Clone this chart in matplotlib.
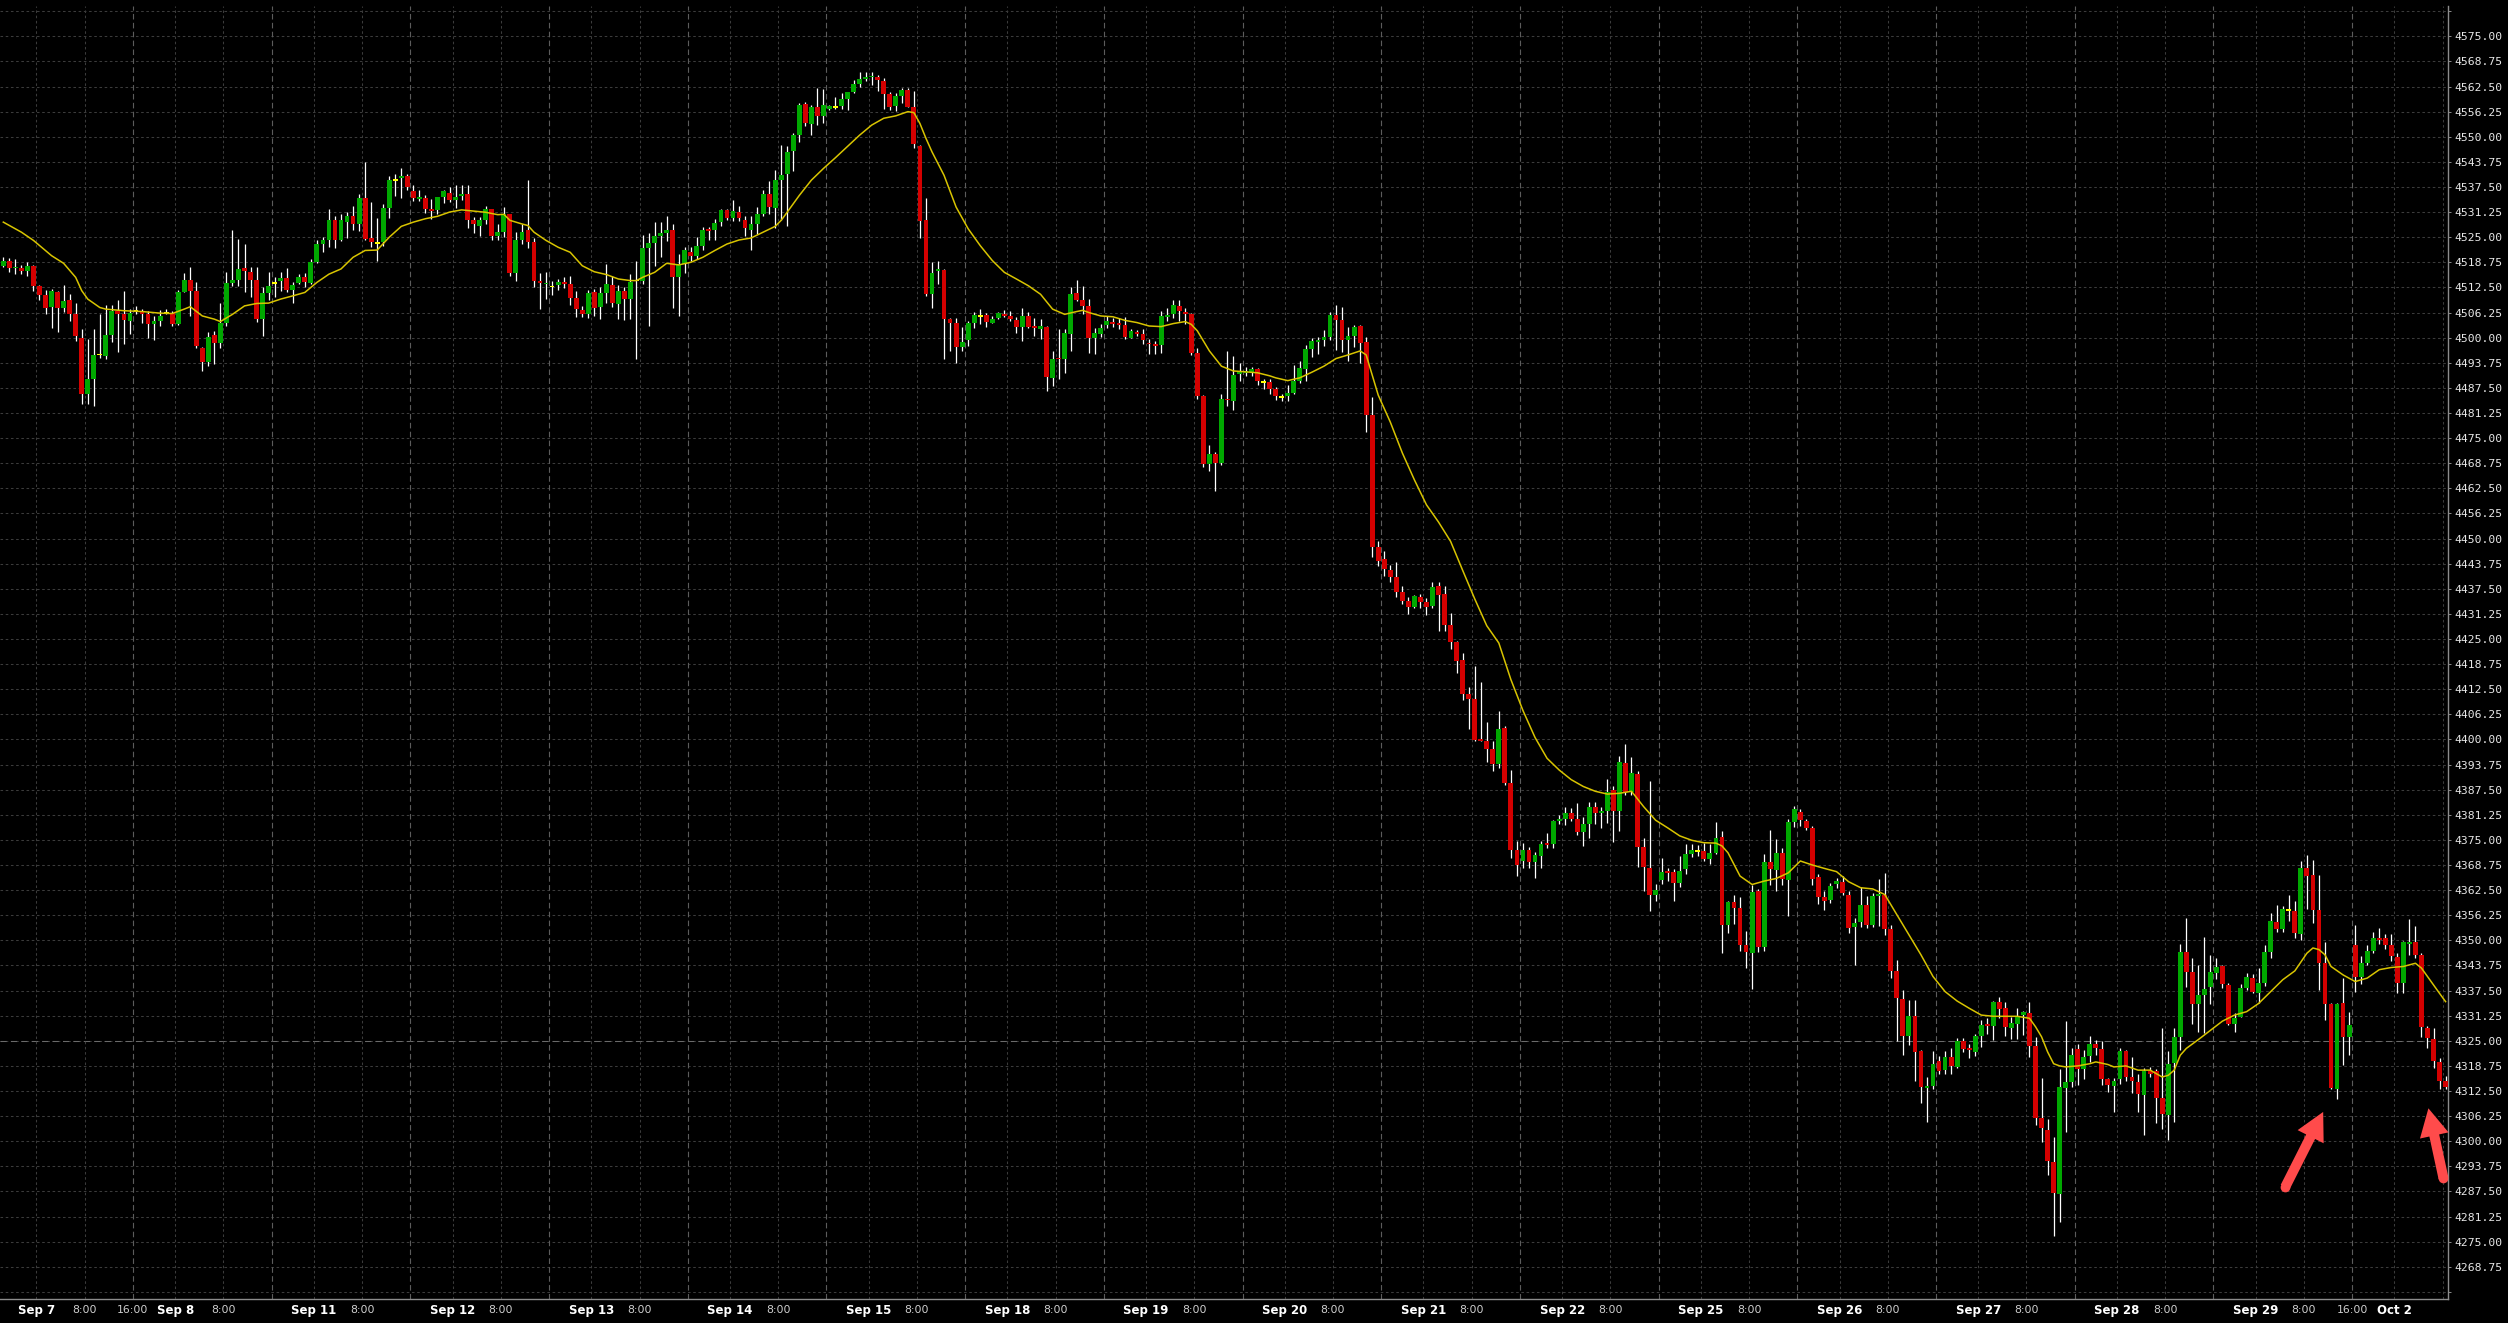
import matplotlib
matplotlib.use('Agg')
import matplotlib.pyplot as plt
from matplotlib.patches import FancyArrowPatch
import numpy as np

# hourly bars, 23 per session, Sep 7 - Oct 2
opens = [
    4517.9, 4519.2, 4517.25, 4517.4, 4516.7, 4517.8, 4512.8, 4510.7, 4507.7, 4511.4,
    4507.3, 4509.3, 4505.8, 4500.0, 4486.0, 4489.7, 4495.8, 4495.4, 4500.7, 4506.7,
    4505.8, 4504.2, 4506.7, 4506.7, 4506.0, 4503.3, 4504.2, 4506.2, 4506.2, 4503.4,
    4511.4, 4514.3, 4511.7, 4497.3, 4494.0, 4500.7, 4498.75, 4503.7, 4513.7, 4514.3,
    4517.3, 4516.4, 4514.3, 4504.75, 4511.2, 4513.7, 4514.0, 4514.9, 4511.8, 4513.5,
    4515.0, 4513.5, 4518.9, 4523.3, 4524.2, 4529.2, 4524.2, 4528.9, 4530.2, 4528.3,
    4534.7, 4524.8, 4523.5, 4523.9, 4532.2, 4539.2, 4539.8, 4540.2, 4536.4, 4534.5,
    4534.8, 4531.9, 4531.75, 4534.9, 4536.1, 4534.25, 4535.25, 4535.8, 4529.2, 4527.9,
    4529.4, 4531.9, 4525.25, 4526.25, 4530.7, 4516.0, 4524.3, 4526.7, 4523.9, 4514.2,
    4513.3, 4512.75, 4513.1, 4513.9, 4513.3, 4509.75, 4506.9, 4505.8, 4511.4, 4507.7,
    4511.2, 4513.1, 4508.3, 4511.7, 4509.6, 4514.2, 4514.2, 4522.3, 4523.6, 4525.4,
    4526.0, 4526.9, 4515.0, 4518.3, 4521.2, 4520.4, 4522.75, 4526.9, 4526.7, 4528.75,
    4531.7, 4529.75, 4531.2, 4529.4, 4526.9, 4528.3, 4530.8, 4535.8, 4532.25, 4539.2,
    4540.7, 4546.4, 4550.4, 4558.2, 4553.2, 4557.3, 4555.25, 4556.8, 4557.4, 4557.7,
    4559.5, 4561.1, 4563.2, 4564.5, 4564.8, 4564.8, 4563.8, 4560.75, 4557.75, 4560.2,
    4561.7, 4557.3, 4547.8, 4529.2, 4510.8, 4516.5, 4516.8, 4504.75, 4503.75, 4497.75,
    4499.4, 4503.75, 4505.4, 4505.6, 4503.75, 4505.0, 4505.8, 4505.4, 4504.3, 4502.75,
    4505.3, 4502.9, 4502.25, 4502.75, 4490.0, 4495.0, 4494.75, 4501.0, 4511.2, 4509.4,
    4507.9, 4500.0, 4501.0, 4503.2, 4503.9, 4503.6, 4503.2, 4500.0, 4501.4, 4501.0,
    4498.75, 4498.3, 4498.25, 4505.25, 4506.0, 4507.9, 4506.5, 4505.8, 4496.1, 4485.4,
    4468.6, 4471.1, 4468.75, 4484.8, 4484.3, 4491.0, 4491.1, 4491.5, 4492.1, 4489.0,
    4488.9, 4487.1, 4485.2, 4485.4, 4486.2, 4489.3, 4492.2, 4497.2, 4499.1, 4499.3,
    4500.1, 4505.6, 4504.4, 4499.3, 4500.35, 4502.9, 4498.9, 4480.7, 4447.9, 4444.8,
    4442.2, 4440.5, 4436.6, 4434.5, 4432.9, 4435.5, 4434.2, 4433.1, 4438.2, 4436.1,
    4428.6, 4424.2, 4419.7, 4411.4, 4410.1, 4400.1, 4399.6, 4397.5, 4393.8, 4402.9,
    4389.2, 4372.6, 4369.7, 4372.6, 4369.5, 4371.0, 4374.2, 4373.9, 4379.6, 4380.3,
    4381.6, 4380.3, 4376.9, 4378.9, 4383.1, 4381.6, 4382.1, 4387.3, 4382.3, 4394.2,
    4386.9, 4391.3, 4373.25, 4368.1, 4361.4, 4364.9, 4367.25, 4367.1, 4364.3, 4367.7,
    4371.6, 4372.25, 4372.25, 4370.3, 4371.7, 4375.75, 4353.75, 4359.5, 4358.0, 4348.8,
    4346.75, 4362.25, 4348.25, 4369.5, 4367.5, 4371.7, 4365.1, 4379.5, 4382.0, 4379.75,
    4378.0, 4365.75, 4360.8, 4360.0, 4364.0, 4364.5, 4361.4, 4353.3, 4354.5, 4358.75,
    4353.75, 4361.1, 4361.4, 4352.8, 4342.3, 4335.4, 4326.25, 4331.25, 4322.5, 4313.3,
    4313.75, 4320.0, 4317.7, 4321.0, 4318.5, 4325.0, 4323.1, 4322.25, 4326.25, 4329.2,
    4328.75, 4334.75, 4333.25, 4328.3, 4329.3, 4331.4, 4332.0, 4323.75, 4305.75, 4302.9,
    4294.75, 4286.8, 4313.25, 4314.7, 4322.9, 4318.0, 4321.1, 4324.25, 4322.9, 4315.6,
    4313.75, 4315.6, 4322.4, 4316.0, 4314.75, 4311.6, 4317.4, 4317.4, 4310.75, 4306.6,
    4319.5, 4325.9, 4347.2, 4342.0, 4334.2, 4336.5, 4338.3, 4341.75, 4343.5, 4338.9,
    4329.1, 4331.0, 4338.25, 4340.75, 4336.8, 4339.3, 4347.0, 4354.5, 4352.8, 4357.5,
    4357.4, 4351.6, 4368.1, 4366.25, 4357.5, 4344.3, 4334.1, 4313.1, 4334.3, 4326.0,
    4348.75, 4340.8, 4344.3, 4347.25, 4350.6, 4350.6, 4348.75, 4345.8, 4339.3, 4349.25,
    4349.5, 4346.25, 4328.3, 4325.4, 4319.75, 4315.0,
]

highs = [
    4520.0, 4519.8, 4519.6, 4518.2, 4518.8, 4518.2, 4513.2, 4511.8, 4512.1, 4511.7,
    4513.2, 4510.8, 4508.6, 4502.1, 4499.6, 4502.1, 4505.8, 4508.2, 4508.2, 4509.3,
    4511.7, 4507.1, 4507.9, 4507.1, 4506.7, 4505.4, 4506.8, 4507.1, 4506.7, 4511.8,
    4516.0, 4517.7, 4513.8, 4497.7, 4501.3, 4501.7, 4508.6, 4516.3, 4526.7, 4524.6,
    4523.3, 4517.7, 4517.5, 4512.7, 4516.3, 4515.0, 4516.3, 4517.25, 4513.75, 4515.8,
    4516.0, 4519.6, 4524.2, 4525.0, 4531.9, 4530.2, 4530.8, 4531.25, 4532.7, 4535.7,
    4543.75, 4533.7, 4529.8, 4533.3, 4540.2, 4540.8, 4542.1, 4540.8, 4537.9, 4536.7,
    4535.4, 4534.6, 4535.0, 4536.8, 4537.5, 4537.9, 4537.9, 4537.9, 4530.0, 4530.0,
    4532.7, 4532.1, 4528.3, 4532.5, 4530.8, 4526.25, 4528.3, 4539.2, 4524.8, 4516.0,
    4516.25, 4514.2, 4514.6, 4515.2, 4515.4, 4511.5, 4507.9, 4511.8, 4512.0, 4512.5,
    4518.3, 4515.4, 4513.1, 4512.5, 4515.8, 4519.2, 4525.6, 4526.0, 4528.75, 4528.75,
    4530.2, 4528.2, 4520.7, 4522.5, 4522.5, 4525.0, 4527.5, 4527.5, 4529.6, 4532.1,
    4532.1, 4534.2, 4532.7, 4530.2, 4530.2, 4532.5, 4536.8, 4539.0, 4541.7, 4547.9,
    4547.7, 4551.0, 4558.3, 4558.75, 4557.9, 4562.1, 4561.8, 4557.9, 4559.8, 4560.8,
    4561.25, 4564.2, 4566.1, 4566.0, 4566.1, 4565.4, 4564.6, 4561.25, 4561.0, 4562.1,
    4562.1, 4561.5, 4547.9, 4534.75, 4518.75, 4519.2, 4517.1, 4505.0, 4505.0, 4502.75,
    4504.2, 4506.5, 4507.1, 4506.25, 4505.4, 4506.5, 4506.9, 4506.7, 4505.2, 4507.3,
    4506.5, 4505.0, 4504.75, 4502.9, 4496.7, 4502.1, 4502.1, 4512.5, 4514.3, 4512.8,
    4509.6, 4502.5, 4503.3, 4505.4, 4504.8, 4505.0, 4505.2, 4502.1, 4501.8, 4502.1,
    4499.6, 4499.2, 4506.7, 4507.5, 4509.3, 4509.3, 4507.5, 4506.1, 4497.5, 4485.8,
    4473.2, 4471.5, 4486.0, 4496.7, 4495.4, 4493.75, 4492.7, 4492.7, 4492.5, 4489.8,
    4489.8, 4487.8, 4485.9, 4488.1, 4493.2, 4494.1, 4498.1, 4499.9, 4500.1, 4501.8,
    4506.3, 4508.2, 4507.7, 4502.7, 4503.1, 4503.1, 4500.1, 4485.2, 4449.5, 4446.9,
    4443.5, 4444.1, 4438.3, 4435.4, 4435.9, 4436.1, 4435.2, 4439.1, 4439.1, 4438.3,
    4431.4, 4424.5, 4421.6, 4413.0, 4418.2, 4414.4, 4404.4, 4399.6, 4407.2, 4403.4,
    4392.4, 4374.7, 4374.2, 4373.3, 4372.0, 4374.7, 4376.6, 4380.0, 4381.3, 4383.3,
    4382.9, 4384.3, 4380.8, 4384.5, 4384.5, 4383.3, 4390.2, 4388.3, 4395.9, 4398.8,
    4395.6, 4392.1, 4375.4, 4389.6, 4364.1, 4370.4, 4368.1, 4367.7, 4371.0, 4374.0,
    4374.1, 4373.75, 4374.3, 4373.9, 4379.5, 4377.1, 4359.9, 4361.2, 4360.75, 4352.4,
    4363.9, 4362.7, 4371.6, 4377.4, 4375.2, 4372.9, 4380.2, 4383.5, 4382.8, 4380.2,
    4378.5, 4366.6, 4362.25, 4364.3, 4365.6, 4366.0, 4362.25, 4355.6, 4363.25, 4361.0,
    4361.8, 4365.2, 4366.7, 4353.75, 4345.0, 4337.7, 4335.2, 4335.2, 4322.7, 4316.0,
    4322.4, 4321.25, 4322.4, 4323.25, 4325.6, 4325.6, 4324.1, 4326.6, 4330.2, 4330.6,
    4334.9, 4336.0, 4334.6, 4331.0, 4333.25, 4332.4, 4334.6, 4326.0, 4315.75, 4305.6,
    4301.0, 4318.1, 4330.0, 4323.25, 4324.3, 4322.7, 4326.25, 4325.2, 4324.9, 4315.75,
    4315.75, 4323.1, 4322.7, 4321.0, 4316.8, 4318.25, 4318.5, 4318.1, 4328.1, 4322.4,
    4328.25, 4349.1, 4355.6, 4345.6, 4343.75, 4350.75, 4346.4, 4345.5, 4343.75, 4339.3,
    4331.8, 4339.1, 4341.8, 4341.6, 4343.1, 4348.75, 4356.8, 4358.75, 4358.5, 4361.25,
    4359.9, 4369.75, 4371.25, 4369.9, 4366.25, 4349.5, 4334.3, 4334.3, 4340.6, 4332.25,
    4353.7, 4346.0, 4348.9, 4352.0, 4353.1, 4351.6, 4351.6, 4346.8, 4349.75, 4355.4,
    4353.5, 4346.8, 4328.75, 4328.25, 4320.75, 4316.25,
]

lows = [
    4517.5, 4516.3, 4515.8, 4515.8, 4515.4, 4511.5, 4509.3, 4505.8, 4502.5, 4501.3,
    4506.3, 4504.2, 4499.2, 4483.5, 4483.5, 4482.9, 4495.0, 4494.6, 4499.0, 4496.5,
    4498.5, 4500.8, 4505.8, 4503.75, 4500.0, 4499.4, 4502.9, 4505.8, 4502.9, 4503.2,
    4511.3, 4505.4, 4497.5, 4491.7, 4492.9, 4493.5, 4497.5, 4502.9, 4512.9, 4512.9,
    4511.3, 4510.2, 4504.0, 4500.4, 4509.3, 4510.0, 4511.5, 4511.25, 4508.5, 4513.3,
    4512.5, 4513.3, 4518.5, 4521.25, 4522.5, 4522.3, 4524.0, 4524.8, 4526.7, 4526.5,
    4524.2, 4522.5, 4519.2, 4522.7, 4529.8, 4535.2, 4534.8, 4536.8, 4534.0, 4534.0,
    4531.0, 4529.6, 4530.8, 4533.5, 4533.75, 4532.25, 4534.2, 4527.25, 4526.0, 4525.3,
    4528.3, 4524.4, 4524.2, 4525.0, 4515.4, 4514.2, 4523.3, 4522.3, 4512.5, 4507.1,
    4509.6, 4510.6, 4511.8, 4512.3, 4508.2, 4505.25, 4505.25, 4505.0, 4505.4, 4504.6,
    4508.5, 4507.7, 4504.6, 4504.3, 4504.75, 4494.8, 4513.3, 4502.8, 4517.9, 4520.0,
    4524.0, 4507.5, 4505.4, 4516.0, 4519.0, 4519.6, 4521.7, 4524.3, 4524.2, 4527.7,
    4529.2, 4529.0, 4529.0, 4525.3, 4521.7, 4525.8, 4530.2, 4530.7, 4527.3, 4529.2,
    4527.75, 4541.5, 4548.75, 4552.7, 4550.4, 4552.9, 4553.3, 4556.7, 4556.8, 4556.8,
    4556.7, 4560.8, 4562.5, 4563.75, 4562.9, 4561.5, 4556.9, 4556.7, 4556.4, 4558.3,
    4557.5, 4547.25, 4524.8, 4510.25, 4507.5, 4513.3, 4494.8, 4496.7, 4493.75, 4496.8,
    4497.9, 4502.5, 4503.3, 4502.7, 4503.75, 4504.6, 4505.2, 4504.2, 4501.25, 4499.2,
    4502.5, 4500.4, 4499.6, 4486.7, 4487.9, 4489.6, 4491.25, 4496.8, 4509.2, 4505.8,
    4496.25, 4496.0, 4500.2, 4502.5, 4502.7, 4502.1, 4499.6, 4499.8, 4500.4, 4498.3,
    4496.0, 4496.0, 4496.25, 4504.2, 4505.0, 4504.2, 4503.3, 4495.8, 4484.8, 4467.9,
    4466.8, 4461.8, 4468.3, 4482.9, 4482.1, 4489.2, 4490.4, 4490.4, 4488.3, 4487.1,
    4486.0, 4484.5, 4484.3, 4484.3, 4485.9, 4488.8, 4489.3, 4495.3, 4496.0, 4498.0,
    4499.4, 4497.0, 4496.4, 4494.1, 4497.7, 4493.6, 4476.6, 4445.5, 4443.1, 4440.6,
    4439.3, 4435.5, 4433.8, 4431.2, 4432.6, 4432.6, 4430.9, 4432.6, 4426.9, 4426.9,
    4422.6, 4416.6, 4409.9, 4402.7, 4399.6, 4399.6, 4394.3, 4392.1, 4392.9, 4388.6,
    4370.4, 4366.1, 4368.0, 4368.0, 4365.6, 4368.0, 4373.1, 4373.1, 4378.9, 4378.7,
    4379.7, 4376.1, 4373.4, 4375.5, 4378.9, 4378.0, 4379.1, 4374.4, 4377.2, 4386.2,
    4386.2, 4368.2, 4362.4, 4357.25, 4359.75, 4364.1, 4364.75, 4359.9, 4363.25, 4366.6,
    4370.75, 4371.0, 4369.75, 4369.1, 4371.4, 4346.8, 4351.8, 4354.1, 4347.4, 4343.1,
    4337.8, 4347.1, 4347.25, 4363.9, 4362.25, 4363.9, 4356.0, 4378.3, 4378.5, 4377.5,
    4363.9, 4359.1, 4357.6, 4359.3, 4363.1, 4361.4, 4351.8, 4343.75, 4353.3, 4353.1,
    4353.3, 4353.5, 4351.25, 4340.6, 4324.9, 4321.4, 4323.9, 4314.9, 4309.6, 4304.9,
    4313.1, 4316.7, 4316.8, 4316.8, 4318.25, 4322.25, 4320.75, 4321.25, 4323.5, 4326.8,
    4325.2, 4330.6, 4326.25, 4325.4, 4325.4, 4326.4, 4321.0, 4304.1, 4299.75, 4291.6,
    4276.4, 4279.9, 4302.4, 4313.5, 4314.1, 4315.6, 4319.75, 4321.4, 4314.1, 4312.25,
    4307.25, 4314.3, 4315.1, 4312.1, 4307.25, 4301.6, 4316.0, 4304.6, 4303.1, 4300.4,
    4304.9, 4322.7, 4338.5, 4329.1, 4327.1, 4327.0, 4334.1, 4340.5, 4338.25, 4328.9,
    4327.25, 4330.8, 4337.7, 4336.8, 4334.3, 4338.7, 4345.6, 4352.1, 4352.0, 4354.75,
    4350.6, 4350.2, 4357.7, 4354.3, 4337.7, 4330.2, 4313.1, 4310.6, 4318.9, 4321.4,
    4337.25, 4339.1, 4343.9, 4346.8, 4349.1, 4347.9, 4344.9, 4336.8, 4336.8, 4346.4,
    4345.6, 4326.0, 4323.25, 4318.25, 4312.9, 4313.1,
]

closes = [
    4519.2, 4517.3, 4517.7, 4516.5, 4517.8, 4512.8, 4510.7, 4507.5, 4511.7, 4507.3,
    4509.2, 4505.8, 4500.3, 4486.0, 4489.8, 4495.7, 4495.8, 4500.7, 4506.7, 4505.8,
    4504.3, 4506.2, 4506.7, 4506.0, 4503.3, 4504.2, 4505.5, 4506.2, 4503.3, 4511.4,
    4514.3, 4511.5, 4497.8, 4494.0, 4500.2, 4498.6, 4503.7, 4513.7, 4514.3, 4517.2,
    4516.7, 4514.3, 4504.75, 4511.2, 4512.9, 4513.7, 4514.8, 4511.8, 4513.2, 4515.0,
    4513.75, 4518.9, 4523.3, 4524.2, 4529.4, 4524.2, 4529.2, 4530.2, 4528.3, 4534.7,
    4524.6, 4523.9, 4523.5, 4532.2, 4539.2, 4539.4, 4540.2, 4537.5, 4534.8, 4535.0,
    4532.0, 4531.5, 4534.9, 4536.4, 4534.25, 4534.9, 4535.8, 4529.2, 4528.25, 4529.4,
    4531.9, 4525.4, 4526.4, 4530.8, 4516.0, 4524.2, 4526.4, 4523.9, 4514.0, 4513.5,
    4513.7, 4512.75, 4513.9, 4513.3, 4509.75, 4507.25, 4506.0, 4511.2, 4507.5, 4511.2,
    4513.3, 4508.5, 4511.7, 4509.6, 4513.9, 4514.2, 4522.3, 4523.5, 4525.2, 4526.0,
    4526.9, 4515.0, 4518.3, 4521.8, 4520.3, 4522.8, 4526.9, 4526.5, 4528.6, 4531.7,
    4529.75, 4531.4, 4529.75, 4527.25, 4528.4, 4530.8, 4535.8, 4532.5, 4539.2, 4540.4,
    4546.25, 4550.4, 4557.9, 4553.3, 4557.3, 4555.25, 4557.9, 4557.7, 4557.4, 4559.3,
    4561.1, 4563.2, 4564.4, 4564.9, 4565.2, 4564.0, 4560.75, 4557.5, 4560.2, 4561.7,
    4557.5, 4548.3, 4529.0, 4510.8, 4516.2, 4517.1, 4504.75, 4503.75, 4497.75, 4498.9,
    4503.6, 4505.6, 4505.4, 4504.0, 4504.75, 4506.1, 4505.4, 4504.75, 4502.75, 4505.3,
    4502.75, 4502.5, 4502.9, 4490.25, 4494.8, 4494.6, 4501.1, 4510.8, 4509.4, 4507.9,
    4500.0, 4501.1, 4502.3, 4504.2, 4503.4, 4503.2, 4500.25, 4501.7, 4501.0, 4499.3,
    4498.3, 4497.9, 4505.4, 4505.7, 4508.1, 4506.7, 4505.8, 4496.25, 4485.6, 4468.6,
    4471.1, 4468.75, 4484.8, 4484.4, 4490.8, 4491.7, 4491.7, 4492.1, 4489.3, 4489.0,
    4487.1, 4485.4, 4485.2, 4486.2, 4489.3, 4492.4, 4497.2, 4499.1, 4499.4, 4500.1,
    4505.6, 4504.4, 4499.3, 4500.4, 4502.6, 4498.6, 4480.7, 4447.9, 4444.3, 4442.5,
    4440.5, 4436.7, 4434.5, 4432.9, 4435.7, 4434.2, 4432.9, 4437.9, 4436.0, 4428.5,
    4424.2, 4419.5, 4411.4, 4410.1, 4399.9, 4399.6, 4397.5, 4393.8, 4402.6, 4389.2,
    4372.6, 4368.8, 4372.6, 4369.5, 4371.2, 4373.9, 4373.7, 4379.6, 4380.3, 4381.6,
    4380.3, 4376.9, 4378.9, 4383.3, 4381.6, 4382.1, 4386.8, 4382.3, 4394.4, 4386.9,
    4391.7, 4373.3, 4368.3, 4361.4, 4362.5, 4367.1, 4366.8, 4364.3, 4367.25, 4371.6,
    4372.4, 4372.25, 4370.3, 4371.7, 4375.4, 4353.75, 4359.5, 4358.0, 4348.8, 4347.0,
    4362.0, 4348.25, 4369.5, 4367.8, 4371.7, 4365.25, 4379.5, 4382.75, 4380.0, 4378.0,
    4365.3, 4360.8, 4359.8, 4363.5, 4364.8, 4361.8, 4353.1, 4354.25, 4358.9, 4353.75,
    4361.0, 4361.4, 4352.8, 4342.3, 4335.6, 4326.25, 4331.25, 4322.3, 4313.5, 4313.75,
    4319.25, 4317.6, 4321.0, 4318.75, 4325.0, 4323.0, 4322.6, 4326.25, 4329.0, 4328.75,
    4334.75, 4333.0, 4328.5, 4329.4, 4331.25, 4332.25, 4323.75, 4305.75, 4303.3, 4295.0,
    4287.0, 4313.5, 4314.75, 4321.4, 4318.1, 4321.0, 4324.25, 4323.25, 4315.6, 4313.9,
    4315.1, 4322.4, 4316.0, 4314.9, 4311.75, 4317.4, 4316.8, 4310.75, 4306.75, 4319.25,
    4325.9, 4347.0, 4342.0, 4334.1, 4336.4, 4337.9, 4342.0, 4343.3, 4339.1, 4329.3,
    4330.75, 4338.25, 4341.0, 4337.1, 4339.3, 4347.0, 4354.75, 4352.8, 4357.7, 4357.5,
    4351.8, 4368.1, 4366.0, 4357.5, 4344.3, 4334.1, 4313.3, 4334.1, 4326.0, 4328.9,
    4340.8, 4344.3, 4347.25, 4350.6, 4350.2, 4348.75, 4346.0, 4339.3, 4349.5, 4349.5,
    4346.25, 4328.5, 4325.6, 4319.9, 4315.0, 4313.5,
]

# moving average (bar index, value)
ma_bar = [0, 3, 5, 8, 10, 12, 13, 14, 16, 17, 20, 23, 26, 28, 30, 31, 33, 35, 36, 38,
          40, 42, 44, 46, 48, 50, 52, 54, 56, 58, 60, 62, 64, 66, 68, 70, 72, 74, 76, 78,
          80, 82, 83, 84, 86, 87, 88, 90, 92, 94, 96, 98, 100, 102, 104, 105, 106, 108, 110, 112,
          114, 116, 118, 120, 122, 124, 126, 128, 129, 130, 132, 134, 136, 138, 140, 142, 144, 146, 148, 150,
          151, 152, 153, 154, 156, 158, 160, 162, 164, 166, 168, 170, 172, 174, 176, 178, 179, 180, 182, 184,
          186, 188, 190, 192, 194, 196, 197, 198, 200, 202, 204, 206, 208, 210, 211, 213, 215, 217, 219, 221,
          223, 225, 226, 228, 230, 232, 234, 236, 238, 240, 242, 244, 246, 248, 250, 252, 254, 256, 258, 260,
          262, 264, 266, 268, 270, 272, 274, 276, 278, 280, 282, 284, 285, 286, 288, 290, 292, 294, 296, 298,
          300, 302, 304, 306, 308, 310, 312, 314, 316, 318, 320, 322, 324, 326, 328, 330, 332, 334, 336, 337,
          338, 339, 340, 341, 342, 344, 346, 347, 349, 350, 352, 354, 356, 358, 359, 360, 361, 362, 364, 366,
          368, 370, 372, 374, 376, 378, 380, 382, 383, 384, 385, 386, 388, 390, 392, 394, 396, 398, 400, 401,
          402, 404, 405]
ma_val = [4528.75, 4526.25, 4524.2, 4520.4, 4518.5, 4515.0, 4511.7, 4509.6, 4507.5, 4507.1,
          4506.7, 4506.5, 4506.1, 4506.0, 4507.1, 4507.7, 4505.4, 4504.6, 4504.0, 4505.8,
          4507.9, 4508.5, 4508.6, 4509.6, 4510.4, 4511.25, 4513.75, 4515.8, 4517.1, 4520.0,
          4521.7, 4521.8, 4525.0, 4527.7, 4528.75, 4529.6, 4530.2, 4531.25, 4531.8, 4531.5,
          4531.2, 4530.6, 4530.7, 4529.2, 4528.3, 4527.9, 4526.25, 4524.2, 4522.5, 4521.25,
          4517.9, 4516.4, 4515.7, 4514.6, 4514.2, 4514.2, 4515.0, 4516.25, 4518.5, 4518.1,
          4518.75, 4520.0, 4521.7, 4523.3, 4524.3, 4524.8, 4526.25, 4527.7, 4529.2, 4531.25,
          4535.4, 4539.2, 4542.1, 4544.8, 4547.6, 4550.4, 4552.9, 4554.6, 4555.2, 4556.25,
          4556.0, 4553.3, 4549.6, 4546.25, 4540.4, 4532.5, 4527.1, 4522.9, 4519.2, 4516.25,
          4514.6, 4512.9, 4510.8, 4507.1, 4505.8, 4506.5, 4506.8, 4506.25, 4505.4, 4505.2,
          4504.3, 4503.75, 4502.9, 4502.75, 4503.5, 4504.0, 4503.3, 4501.7, 4496.7, 4492.9,
          4491.7, 4491.5, 4491.25, 4490.5, 4490.0, 4489.3, 4490.0, 4491.4, 4492.9, 4494.8,
          4495.7, 4496.7, 4495.7, 4485.7, 4479.0, 4471.3, 4464.6, 4458.4, 4454.1, 4449.3,
          4442.1, 4435.0, 4428.3, 4424.0, 4414.9, 4407.2, 4400.5, 4395.3, 4392.4, 4390.0,
          4388.3, 4387.1, 4386.4, 4386.6, 4387.1, 4383.3, 4379.9, 4378.0, 4376.0, 4374.9,
          4374.3, 4374.2, 4373.5, 4371.8, 4366.0, 4363.9, 4364.75, 4365.4, 4366.8, 4369.75,
          4368.75, 4367.9, 4367.1, 4364.6, 4363.1, 4362.8, 4361.4, 4356.4, 4351.4, 4346.4,
          4341.0, 4337.25, 4334.9, 4333.1, 4331.4, 4331.1, 4331.1, 4331.1, 4330.6, 4328.5,
          4326.0, 4322.25, 4319.3, 4318.75, 4318.5, 4318.75, 4319.3, 4319.75, 4319.1, 4318.5,
          4318.75, 4317.7, 4317.7, 4316.0, 4316.4, 4317.7, 4321.4, 4323.1, 4325.3, 4327.6,
          4329.9, 4331.4, 4332.25, 4334.3, 4337.25, 4340.2, 4342.4, 4346.8, 4348.1, 4347.7,
          4346.4, 4343.5, 4341.4, 4339.75, 4340.6, 4342.7, 4343.25, 4343.5, 4344.3, 4343.1,
          4341.0, 4336.8, 4334.75]

days = ['Sep 7', 'Sep 8', 'Sep 11', 'Sep 12', 'Sep 13', 'Sep 14', 'Sep 15', 'Sep 18',
        'Sep 19', 'Sep 20', 'Sep 21', 'Sep 22', 'Sep 25', 'Sep 26', 'Sep 27', 'Sep 28',
        'Sep 29', 'Oct 2']
days_with_16 = ['Sep 7', 'Sep 29']

first_day_bar = 6      # bar where the Sep 7 column starts
bars_per_day = 23

o = np.array(opens)
h = np.array(highs)
l = np.array(lows)
c = np.array(closes)
x = np.arange(len(o))

BG = '#000000'
fig = plt.figure(figsize=(25.08, 13.23), dpi=100, facecolor=BG)
ax = fig.add_axes([0, 24 / 1323, 2448 / 2508, 1293 / 1323])
ax.set_facecolor(BG)
ax.set_xlim(-0.55, 405.4)
ax.set_ylim(4260.74, 4582.54)

# grid
grid_c = '#3b3b3b'
levels = np.arange(4262.5, 4582, 6.25)
for lv in levels:
    ax.axhline(lv, color=grid_c, lw=0.75, ls=(0, (2.5, 2.5)), zorder=0)
ax.axhline(4325.0, color='#6a6a6a', lw=0.75, ls=(0, (6, 4)), zorder=0)

for d in range(len(days)):
    start = first_day_bar + bars_per_day * d - 0.5
    for off in (0, 8, 16):
        gx = start + off
        if gx > 405.4:
            continue
        if off == 16:
            ax.axvline(gx, color='#5c5c5c', lw=0.8, ls=(0, (5, 3)), zorder=0)
        else:
            ax.axvline(gx, color=grid_c, lw=0.75, ls=(0, (2.5, 2.5)), zorder=0)

# candles
ax.vlines(x, l, h, color='white', lw=0.9, zorder=2)
diff = c - o
cols = np.where(np.abs(diff) < 0.2, '#ffff00', np.where(diff > 0, '#00a800', '#d40000'))
body_h = np.where(np.abs(diff) < 0.45, 0.45, np.abs(diff))
body_b = np.where(np.abs(diff) < 0.45, (o + c) / 2 - 0.225, np.minimum(o, c))
ax.bar(x, body_h, bottom=body_b, width=0.8, color=cols, linewidth=0, zorder=3)

# moving average
ax.plot(ma_bar, ma_val, color='#d8c400', lw=1.1, zorder=4)

# axes styling
for s in ('left', 'top'):
    ax.spines[s].set_visible(False)
for s in ('right', 'bottom'):
    ax.spines[s].set_color('#8c8c8c')
    ax.spines[s].set_linewidth(1.0)
ax.yaxis.tick_right()
ax.set_yticks(levels)
ax.set_yticklabels(['' if (lv < 4268 or lv > 4576) else f'{lv:.2f}' for lv in levels],
                   family='DejaVu Sans Mono', fontsize=8.2, color='#e8e8e8')
ax.tick_params(axis='y', length=2.2, width=0.7, color='#8c8c8c', pad=2.2)
ax.set_xticks([])

# time labels under the axis
tr = ax.get_xaxis_transform()
for d, name in enumerate(days):
    start = first_day_bar + bars_per_day * d - 0.5
    ax.text(start, -0.0088, name, transform=tr, ha='center', va='center',
            fontsize=8.5, fontweight='bold', color='white', clip_on=False)
    if start + 8 < 403:
        ax.text(start + 8, -0.0088, '8:00', transform=tr, ha='center', va='center',
                fontsize=7.8, color='#d0d0d0', clip_on=False)
    if name in days_with_16:
        ax.text(start + 16, -0.0088, '16:00', transform=tr, ha='center', va='center',
                fontsize=7.8, color='#d0d0d0', clip_on=False)

# red arrows
for tail, tip in [((378.4, 4288.6), (384.7, 4307.3)), ((404.65, 4290.8), (402.15, 4308.2))]:
    arr = FancyArrowPatch(tail, tip, arrowstyle='simple,head_length=1.0,head_width=1.05,tail_width=0.36',
                          mutation_scale=20, color='#ff4b4b', lw=0, shrinkA=0, shrinkB=0,
                          zorder=6, clip_on=False)
    ax.add_patch(arr)
    ax.plot([tail[0]], [tail[1]], 'o', ms=7.0, color='#ff4b4b', mec='none', zorder=6, clip_on=False)

fig.savefig('out.png', dpi=100, facecolor=BG)
